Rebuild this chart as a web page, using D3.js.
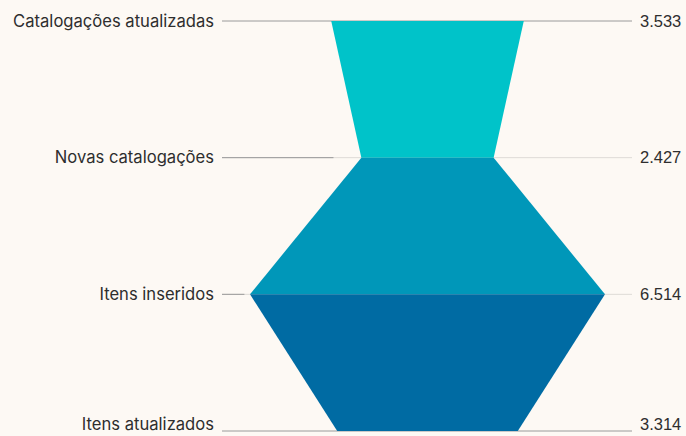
<!DOCTYPE html>
<html><head><meta charset="utf-8">
<script src="https://cdn.jsdelivr.net/npm/d3@7"></script>
<style>
html,body{margin:0;padding:0;background:#fdf9f4;}
svg{display:block;}
</style></head>
<body>
<script>
const categories = ["Catalogações atualizadas","Novas catalogações","Itens inseridos","Itens atualizados"];
const values = [3533, 2427, 6514, 3314];
const valueLabels = ["3.533","2.427","6.514","3.314"];
const colors = ["#00c3c9","#0097b9","#006ba3"];

const W = 686, H = 436;
const svg = d3.select("body").append("svg").attr("width", W).attr("height", H);
svg.append("rect").attr("width", W).attr("height", H).attr("fill", "#fdf9f4");

const cx = 427.5;
const y = d3.scalePoint().domain(categories).range([21, 431]);
const w = d3.scaleLinear().domain([0, d3.max(values)]).range([0, 355]);
const lineX0 = 222, lineX1 = 632;
const last = categories.length - 1;

categories.forEach((c, i) => {
  const yy = y(c);
  const edge = cx - w(values[i]) / 2;
  const ends = (i === 0 || i === last);
  svg.append("line").attr("x1", lineX0).attr("x2", lineX1).attr("y1", yy).attr("y2", yy)
    .attr("stroke", ends ? "#9a9a9a" : "#dedbd6").attr("stroke-width", 1);
  if (!ends) {
    svg.append("line").attr("x1", lineX0).attr("x2", lineX0 + (edge - lineX0) * 0.8)
      .attr("y1", yy).attr("y2", yy).attr("stroke", "#9a9a9a").attr("stroke-width", 1);
  }
});

for (let i = 0; i < last; i++) {
  const y0 = y(categories[i]), y1 = y(categories[i + 1]);
  const w0 = w(values[i]) / 2, w1 = w(values[i + 1]) / 2;
  svg.append("path")
    .attr("d", d3.line()([[cx - w0, y0], [cx + w0, y0], [cx + w1, y1], [cx - w1, y1]]) + "Z")
    .attr("fill", colors[i]);
}

const textY = (i) => i === last ? y(categories[i]) - 1.5 : y(categories[i]);
const textDy = (i) => i === last ? "0" : "0.35em";

svg.selectAll("text.lab").data(categories).join("text")
  .attr("class", "lab")
  .attr("x", 214).attr("y", (d, i) => textY(i))
  .attr("dy", (d, i) => textDy(i))
  .attr("text-anchor", "end")
  .attr("font-family", "Inter, 'Open Sans', sans-serif")
  .attr("font-size", 16.6)
  .attr("fill", "#2e2e2e")
  .text(d => d);

svg.selectAll("text.val").data(valueLabels).join("text")
  .attr("class", "val")
  .attr("x", 640).attr("y", (d, i) => textY(i))
  .attr("dy", (d, i) => textDy(i))
  .attr("font-family", "'Liberation Sans', Arial, sans-serif")
  .attr("font-size", 16.5)
  .attr("fill", "#2e2e2e")
  .text(d => d);
</script>
</body></html>
